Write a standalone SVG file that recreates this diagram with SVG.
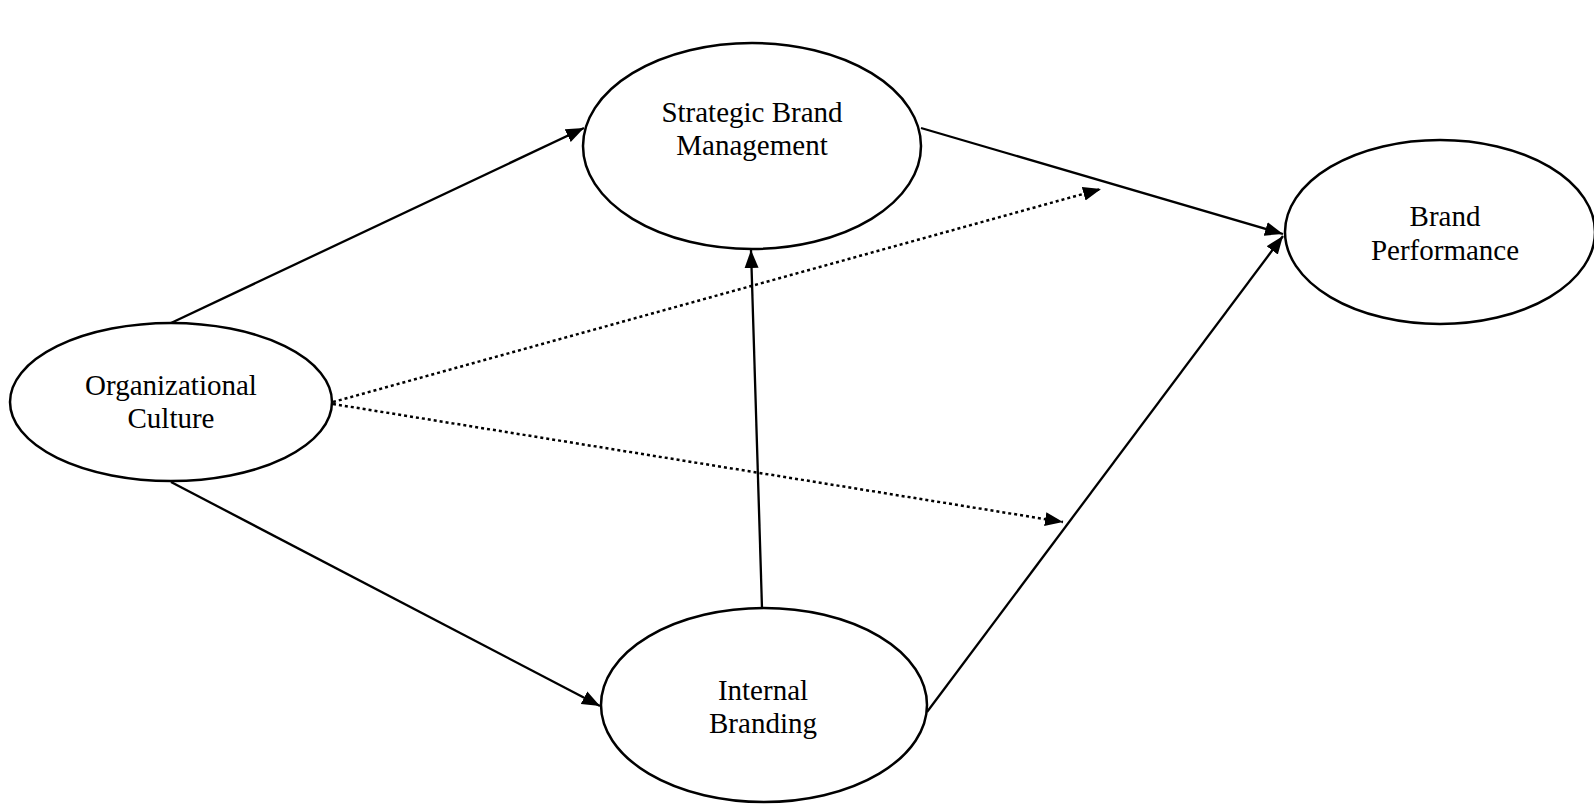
<svg xmlns="http://www.w3.org/2000/svg" width="1594" height="805" viewBox="0 0 1594 805">
<style>
.node ellipse{fill:#fff;stroke:#000;stroke-width:2.5}
.node text{font-family:"Liberation Serif","Times New Roman",serif;font-size:29px;fill:#000;text-anchor:middle}
.c{stroke:#000;stroke-width:2.3;fill:none;marker-end:url(#ah)}
.d{stroke:#000;stroke-width:2.5;fill:none;stroke-dasharray:3 3;marker-end:url(#ah)}
</style>
<defs>
<marker id="ah" markerUnits="userSpaceOnUse" markerWidth="19" markerHeight="15" refX="18" refY="7.5" orient="auto" viewBox="0 0 19 15">
<path d="M0,0.5 L18,7.5 L0,14.5 z" fill="#000"/>
</marker>
</defs>
<rect width="1594" height="805" fill="#fff"/>
<g id="connectors">
<line class="c" x1="171" y1="323" x2="584" y2="128"/>
<line class="c" x1="921" y1="128" x2="1283" y2="234"/>
<line class="c" x1="927" y1="712" x2="1283" y2="236"/>
<line class="c" x1="762" y1="608" x2="751" y2="250"/>
<line class="c" x1="171" y1="482" x2="600" y2="706"/>
<line class="d" x1="333" y1="402" x2="1101" y2="189"/>
<line class="d" x1="333" y1="404" x2="1063" y2="522"/>
</g>
<g id="strategic" class="node">
<ellipse cx="752" cy="146" rx="169" ry="103"/>
<text x="752" y="122">Strategic Brand</text>
<text x="752" y="155">Management</text>
</g>
<g id="performance" class="node">
<ellipse cx="1440" cy="232" rx="155" ry="92"/>
<text x="1445" y="226">Brand</text>
<text x="1445" y="260">Performance</text>
</g>
<g id="culture" class="node">
<ellipse cx="171" cy="402" rx="161" ry="79"/>
<text x="171" y="395">Organizational</text>
<text x="171" y="428">Culture</text>
</g>
<g id="internal" class="node">
<ellipse cx="764" cy="705" rx="163" ry="97"/>
<text x="763" y="700">Internal</text>
<text x="763" y="733">Branding</text>
</g>
</svg>
